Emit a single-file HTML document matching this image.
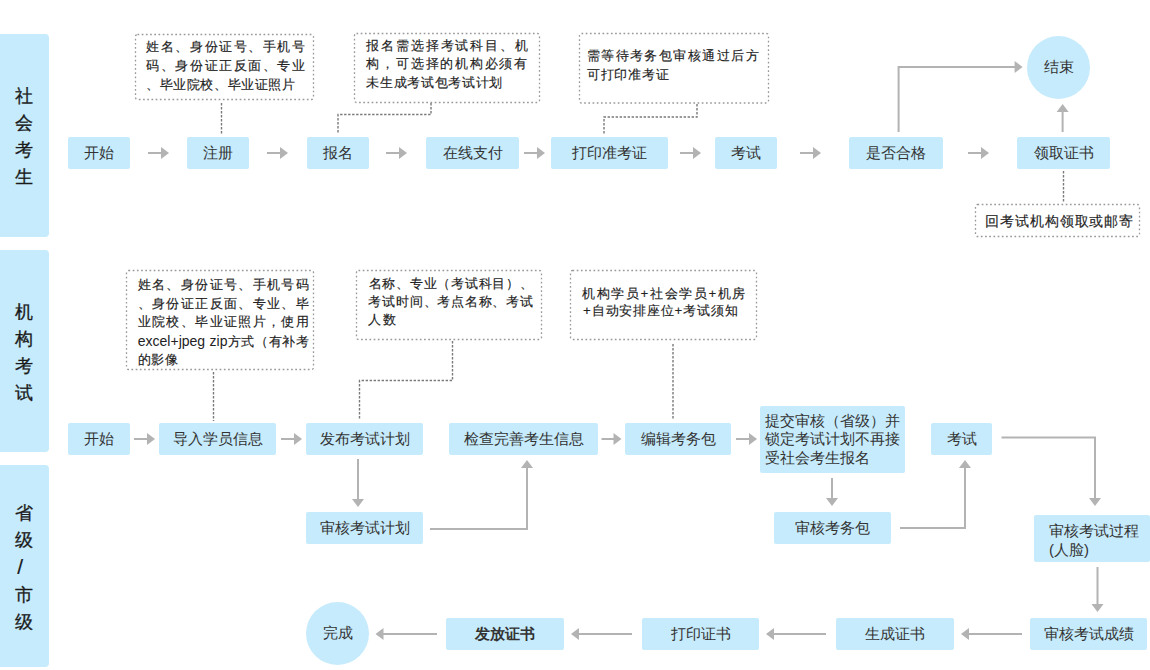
<!DOCTYPE html>
<html><head><meta charset="utf-8">
<style>
html,body{margin:0;padding:0;background:#fff;}
body{width:1150px;height:670px;position:relative;overflow:hidden;font-family:"Liberation Sans",sans-serif;color:#333;}
.side{position:absolute;left:0;width:48.5px;background:#c6ebfc;border-radius:0 4px 4px 0;font-size:18px;line-height:27.3px;color:#1a1a1a;-webkit-text-stroke:0.3px #1a1a1a;text-align:center;box-sizing:border-box;}
.b{position:absolute;background:#c6ebfc;border-radius:2px;display:flex;align-items:center;justify-content:center;font-size:15px;color:#333;white-space:nowrap;}
.c{position:absolute;background:#c6ebfc;border-radius:50%;display:flex;align-items:center;justify-content:center;font-size:15px;color:#333;}
.l{position:absolute;font-size:13.33px;line-height:18.5px;height:18.5px;color:#222;text-align:justify;text-align-last:justify;white-space:nowrap;-webkit-text-stroke:0.15px #222;}
.m{position:absolute;font-size:15px;line-height:18.5px;color:#333;white-space:nowrap;}
svg{position:absolute;left:0;top:0;}
</style></head><body>

<div class="side" style="top:34px;height:203px;padding-top:48.5px;">社<br>会<br>考<br>生</div>
<div class="side" style="top:249.5px;height:202px;padding-top:49px;">机<br>构<br>考<br>试</div>
<div class="side" style="top:465px;height:202px;padding-top:35px;">省<br>级<br><span style="font-size:21px;line-height:10px;position:relative;left:-4px;top:0.5px;-webkit-text-stroke:0.2px #1a1a1a">/</span><br>市<br>级</div>
<div class="b" style="left:68px;top:137px;width:62px;height:32px;">开始</div>
<div class="b" style="left:187px;top:137px;width:62px;height:32px;">注册</div>
<div class="b" style="left:307px;top:137px;width:62px;height:32px;">报名</div>
<div class="b" style="left:426px;top:137px;width:93px;height:32px;">在线支付</div>
<div class="b" style="left:551px;top:137px;width:117px;height:32px;">打印准考证</div>
<div class="b" style="left:715px;top:137px;width:62px;height:32px;">考试</div>
<div class="b" style="left:849px;top:137px;width:94px;height:32px;">是否合格</div>
<div class="b" style="left:1017px;top:137px;width:93px;height:32px;">领取证书</div>
<div class="b" style="left:68px;top:423px;width:62px;height:32px;">开始</div>
<div class="b" style="left:159px;top:423px;width:117px;height:32px;">导入学员信息</div>
<div class="b" style="left:306px;top:423px;width:117px;height:32px;">发布考试计划</div>
<div class="b" style="left:449px;top:423px;width:149px;height:32px;">检查完善考生信息</div>
<div class="b" style="left:625px;top:423px;width:106px;height:32px;">编辑考务包</div>
<div class="b" style="left:931px;top:423px;width:61px;height:32px;">考试</div>
<div class="b" style="left:306px;top:512px;width:117px;height:32px;">审核考试计划</div>
<div class="b" style="left:774px;top:512px;width:117px;height:32px;">审核考务包</div>
<div class="b" style="left:446px;top:618px;width:118px;height:32px;font-weight:bold;">发放证书</div>
<div class="b" style="left:642px;top:618px;width:117px;height:32px;">打印证书</div>
<div class="b" style="left:836px;top:618px;width:118px;height:32px;">生成证书</div>
<div class="b" style="left:1030px;top:618px;width:117px;height:32px;">审核考试成绩</div>
<div class="c" style="left:1027.0px;top:36.0px;width:63.0px;height:63.0px;">结束</div>
<div class="c" style="left:306.0px;top:602.0px;width:63.0px;height:63.0px;">完成</div>
<div class="b" style="left:760px;top:406px;width:145px;height:67px;"></div>
<div class="m" style="left:765px;top:411.5px;line-height:18.7px;">提交审核（省级）并<br>锁定考试计划不再接<br>受社会考生报名</div>
<div class="b" style="left:1034px;top:515px;width:116px;height:47px;"></div>
<div class="m" style="left:1049px;top:521px;line-height:19px;">审核考试过程<br>(人脸)</div>
<div class="l" style="left:146.20px;top:38.20px;width:158.90px;font-size:13.33px;">姓名、身份证号、手机号</div>
<div class="l" style="left:146.20px;top:57.00px;width:158.90px;font-size:13.33px;">码、身份证正反面、专业</div>
<div class="l" style="left:145.90px;top:75.50px;width:149.20px;font-size:13.33px;">、毕业院校、毕业证照片</div>
<div class="l" style="left:366.40px;top:36.70px;width:161.40px;font-size:13.33px;">报名需选择考试科目、机</div>
<div class="l" style="left:366.40px;top:55.20px;width:160.90px;font-size:13.33px;">构，可选择的机构必须有</div>
<div class="l" style="left:366.40px;top:74.00px;width:135.80px;font-size:13.33px;">未生成考试包考试计划</div>
<div class="l" style="left:586.70px;top:46.70px;width:171.90px;font-size:13.33px;">需等待考务包审核通过后方</div>
<div class="l" style="left:586.70px;top:65.50px;width:82.50px;font-size:13.33px;">可打印准考证</div>
<div class="l" style="left:984.97px;top:212.47px;width:148.36px;font-size:14.00px;">回考试机构领取或邮寄</div>
<div class="l" style="left:137.80px;top:276.20px;width:170.80px;font-size:13.33px;">姓名、身份证号、手机号码</div>
<div class="l" style="left:137.80px;top:294.70px;width:170.80px;font-size:13.33px;">、身份证正反面、专业、毕</div>
<div class="l" style="left:137.80px;top:313.20px;width:170.80px;font-size:13.33px;">业院校、毕业证照片，使用</div>
<div class="l" style="left:137.80px;top:331.70px;width:170.80px;font-size:13.33px;"><span style="font-size:14px;-webkit-text-stroke:0">excel+jpeg zip</span>方式（有补考</div>
<div class="l" style="left:137.80px;top:351.00px;width:40.00px;font-size:13.33px;">的影像</div>
<div class="l" style="left:368.50px;top:274.80px;width:164.50px;font-size:13.33px;">名称、专业（考试科目）、</div>
<div class="l" style="left:368.40px;top:292.90px;width:164.60px;font-size:13.33px;">考试时间、考点名称、考试</div>
<div class="l" style="left:368.40px;top:311.10px;width:27.50px;font-size:13.33px;">人数</div>
<div class="l" style="left:582.20px;top:285.10px;width:163.20px;font-size:13.33px;">机构学员+社会学员+机房</div>
<div class="l" style="left:583.10px;top:302.40px;width:154.60px;font-size:13.33px;">+自动安排座位+考试须知</div>
<svg width="1150" height="670" viewBox="0 0 1150 670">
<defs><path id="ah" d="M0,0 L-8,-6 L-8,6 Z"/></defs>
<g stroke="#999" stroke-width="1.3" fill="none" stroke-dasharray="1.7 2.5">
<rect x="135.5" y="34.5" width="178.0" height="65.0" rx="2"/>
<rect x="354.5" y="33.5" width="185.0" height="69.0" rx="2"/>
<rect x="579.5" y="33.5" width="189.0" height="69.5" rx="2"/>
<rect x="975.5" y="204.5" width="164.0" height="32.0" rx="2"/>
<rect x="126.5" y="270.5" width="187.0" height="99.0" rx="2"/>
<rect x="356.5" y="270.5" width="185.0" height="69.0" rx="2"/>
<rect x="570.5" y="270.5" width="186.0" height="69.0" rx="2"/>
</g>
<g stroke="#7a7a7a" stroke-width="1.4" fill="none" stroke-dasharray="2.4 1.6">
<path d="M221.5,103V134"/>
<path d="M431,103V114.5H338V133.5"/>
<path d="M697,104V117H604V133.5"/>
<path d="M1063.5,171V202"/>
<path d="M213.5,372V421"/>
<path d="M452.5,341V380.5H359.5V420"/>
<path d="M673,344V420"/>
</g>
<g stroke="#b3b3b3" stroke-width="2" fill="none">
<path d="M148,153H162"/>
<path d="M267,153H281"/>
<path d="M386,153H400"/>
<path d="M524,153H538"/>
<path d="M680,153H694"/>
<path d="M800,153H814"/>
<path d="M968,153H982"/>
<path d="M898.6,132V67H1015"/>
<path d="M1062.6,132V111"/>
<path d="M134,439H148"/>
<path d="M281,439H295"/>
<path d="M601.5,439H614"/>
<path d="M736,439H750"/>
<path d="M1001.5,437.5H1095V498"/>
<path d="M358,459V500"/>
<path d="M430,529H527V467"/>
<path d="M832,478V499"/>
<path d="M900,528H965V467"/>
<path d="M1097.5,567V605"/>
<path d="M437,634H383"/>
<path d="M632,634H578"/>
<path d="M826,634H773"/>
<path d="M1022,634H968"/>
</g><g fill="#b3b3b3">
<use href="#ah" transform="translate(169,153) rotate(0)"/>
<use href="#ah" transform="translate(288,153) rotate(0)"/>
<use href="#ah" transform="translate(407,153) rotate(0)"/>
<use href="#ah" transform="translate(545,153) rotate(0)"/>
<use href="#ah" transform="translate(701,153) rotate(0)"/>
<use href="#ah" transform="translate(821,153) rotate(0)"/>
<use href="#ah" transform="translate(989,153) rotate(0)"/>
<use href="#ah" transform="translate(1022.6,67) rotate(0)"/>
<use href="#ah" transform="translate(1062.6,103.9) rotate(-90)"/>
<use href="#ah" transform="translate(155,439) rotate(0)"/>
<use href="#ah" transform="translate(302,439) rotate(0)"/>
<use href="#ah" transform="translate(621.5,439) rotate(0)"/>
<use href="#ah" transform="translate(757,439) rotate(0)"/>
<use href="#ah" transform="translate(1095,506) rotate(90)"/>
<use href="#ah" transform="translate(358,507) rotate(90)"/>
<use href="#ah" transform="translate(527,460) rotate(-90)"/>
<use href="#ah" transform="translate(832,506) rotate(90)"/>
<use href="#ah" transform="translate(965,460) rotate(-90)"/>
<use href="#ah" transform="translate(1097.5,612) rotate(90)"/>
<use href="#ah" transform="translate(375.5,634) rotate(180)"/>
<use href="#ah" transform="translate(571,634) rotate(180)"/>
<use href="#ah" transform="translate(766,634) rotate(180)"/>
<use href="#ah" transform="translate(961,634) rotate(180)"/>
</g></svg>
</body></html>
